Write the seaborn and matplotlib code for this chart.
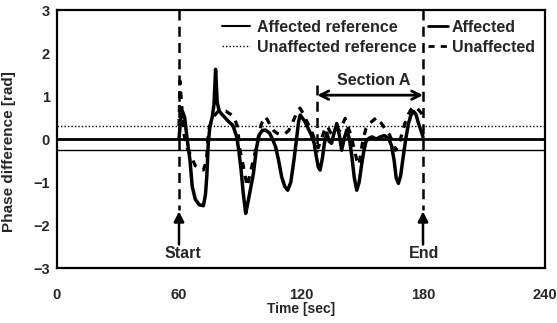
import matplotlib
matplotlib.use("Agg")
import matplotlib.pyplot as plt
import seaborn as sns
from matplotlib.lines import Line2D

# ---------------- data ----------------
t_aff = [60, 60.8, 61.8, 62.8, 64, 65.4, 66.5, 68, 70, 72, 73, 73.7, 74.4, 75.2, 76.3, 77.2,
         78.0, 78.8, 79.8, 81, 82.6, 84.5, 86.5, 88.4, 89.5, 90.5, 91.6, 92.8, 93.8, 95, 96.6,
         98.2, 99.5, 101, 102.5, 104.5, 106, 107.5, 109, 110.5, 112, 113.5, 115, 116.5, 117.8,
         118.8, 119.6, 120.5, 122, 123.5, 125, 126.5, 127.5, 128.5, 129.4, 130.5, 131.5, 132.7,
         133.8, 135, 136.3, 137.6, 138.8, 140, 141.2, 142.5, 143.8, 145, 146.2, 147.4, 148.6,
         149.8, 150.8, 152, 153.5, 155, 157, 159, 161, 163, 164.5, 165.8, 166.8, 167.9, 169,
         170.3, 171.5, 172.8, 174, 175.3, 176.5, 177.8, 179, 180]
v_aff = [0.0, 0.45, 0.63, 0.5, 0.0, -0.49, -1.1, -1.4, -1.53, -1.55, -1.3, -0.85, -0.1, 0.3, 0.5, 0.8,
         1.62, 0.85, 0.65, 0.58, 0.5, 0.4, 0.32, 0.05, -0.3, -0.7, -1.26, -1.73, -1.5, -1.2, -0.8,
         -0.18, 0.1, 0.2, 0.21, 0.14, 0.0, -0.18, -0.5, -0.88, -1.1, -1.19, -1.0, -0.5, 0.0,
         0.4, 0.56, 0.5, 0.4, 0.25, 0.1, -0.1, -0.4, -0.65, -0.72, -0.45, -0.1, 0.14,
         -0.05, -0.1, 0.15, 0.36, 0.1, -0.26, 0.0, 0.21, 0.0, -0.4, -0.9, -1.19, -1.0,
         -0.6, -0.3, -0.05, 0.02, 0.05, 0.0, 0.05, 0.08, 0.02, -0.15, -0.5, -0.9, -1.03, -0.85,
         -0.4, 0.0, 0.35, 0.55, 0.64, 0.58, 0.36, 0.2, 0.05]

t_unaff = [60, 60.5, 61.3, 62.5, 64, 66, 68, 70, 72, 73.5, 74.5, 76, 77.5, 79, 81, 83, 84.5, 86,
           87.5, 88.7, 90, 91.5, 92.5, 93.5, 94.5, 96, 97.5, 99, 100.5, 102.3, 103.5, 105, 106.5,
           108, 110, 112, 114, 116, 117.8, 119.5, 121, 122.5, 124, 125.5, 127, 128.5, 130, 131.5,
           133, 134.5, 136, 137.5, 139, 140.5, 141.7, 143, 144.5, 146, 147.5, 148.5, 149.5, 150.5,
           152, 153.5, 155.6, 157.5, 159, 160.5, 162, 163.5, 165, 166.5, 168, 169.5, 171, 172.5,
           174, 175.3, 176.8, 178, 179.2, 180]
v_unaff = [0.3, 1.35, 0.8, 0.1, -0.2, -0.4, -0.62, -0.68, -0.72, -0.5, 0.2, 0.4, 0.55, 0.63, 0.67,
           0.65, 0.6, 0.56, 0.45, 0.3, -0.26, -0.6, -0.85, -1.1, -0.9, -0.6, -0.3, 0.05, 0.35, 0.52,
           0.45, 0.3, 0.2, 0.14, 0.1, 0.12, 0.2, 0.4, 0.6, 0.72, 0.6, 0.45, 0.3, 0.15, -0.05, -0.2,
           0.0, 0.2, 0.3, 0.15, 0.1, 0.25, 0.2, 0.35, 0.48, 0.3, 0.1, -0.2, -0.5, -0.6, -0.3, 0.0,
           0.25, 0.35, 0.44, 0.5, 0.4, 0.3, 0.21, 0.1, -0.05, -0.26, -0.15, 0.1, 0.35, 0.55,
           0.68, 0.75, 0.72, 0.67, 0.6, 0.5]

aff_ref = -0.25
unaff_ref = 0.30
start_t, end_t, section_start = 60, 180, 128
x_ticks = [0, 60, 120, 180, 240]
y_ticks = [-3, -2, -1, 0, 1, 2, 3]

# ---------------- style ----------------
sns.set_theme(style="white")
plt.rcParams['font.family'] = ['Liberation Sans', 'DejaVu Sans']
plt.rcParams['font.weight'] = 'bold'

fig = plt.figure(figsize=(5.57, 3.23), dpi=100)
ax = fig.add_axes([0.1023, 0.170, 0.8762, 0.799])

FS = 11.5
TFS = 10.5
dotted = (0, (1, 1.5))
# reference and zero lines
ax.axhline(0, color='black', lw=2.0, zorder=2)
ax.axhline(aff_ref, color='black', lw=1.0, zorder=2)
ax.axhline(unaff_ref, color='black', lw=1.0, ls=dotted, zorder=2)

sns.lineplot(x=t_aff, y=v_aff, ax=ax, color='black', lw=2.5, sort=False, zorder=4)
sns.lineplot(x=t_unaff, y=v_unaff, ax=ax, color='black', lw=2.3, ls=(0, (2.2, 2.2)),
             sort=False, zorder=3)

# start / end / section lines
dash_v = (0, (4, 2.5))
ax.plot([start_t, start_t], [3, -1.65], color='black', lw=1.8, ls=dash_v, zorder=3)
ax.plot([end_t, end_t], [3, -1.65], color='black', lw=1.8, ls=dash_v, zorder=3)
ax.plot([section_start, section_start], [1.25, -0.3], color='black', lw=1.8, ls=dash_v, zorder=3)

arrow = dict(arrowstyle='-|>', lw=1.8, color='black', mutation_scale=15, shrinkA=0, shrinkB=0)
ax.annotate('', xy=(start_t, -1.68), xytext=(start_t, -2.45), arrowprops=arrow)
ax.annotate('', xy=(end_t, -1.68), xytext=(end_t, -2.45), arrowprops=arrow)
ax.text(start_t + 2, -2.66, 'Start', ha='center', va='center', fontsize=FS, fontweight='bold')
ax.text(end_t + 0.5, -2.66, 'End', ha='center', va='center', fontsize=FS, fontweight='bold')

ax.annotate('', xy=(section_start, 1.02), xytext=(end_t, 1.02),
            arrowprops=dict(arrowstyle='<->', lw=2.0, color='black', mutation_scale=15,
                            shrinkA=0, shrinkB=0))
ax.text(155.5, 1.37, 'Section A', ha='center', va='center', fontsize=FS, fontweight='bold')

# legends (two columns with different handle lengths)
h_ref = [Line2D([], [], color='black', lw=1.5),
         Line2D([], [], color='black', lw=1.0, ls=dotted)]
leg1 = ax.legend(h_ref, ['Affected reference', 'Unaffected reference'], frameon=False,
                 loc='upper left', bbox_to_anchor=(0.338, 0.962), fontsize=FS,
                 handlelength=1.75, handletextpad=0.45, labelspacing=0.3,
                 borderpad=0, borderaxespad=0)
ax.add_artist(leg1)
h_dat = [Line2D([], [], color='black', lw=2.0),
         Line2D([], [], color='black', lw=2.0, ls=(0, (2.2, 2.2)))]
leg2 = ax.legend(h_dat, ['Affected', 'Unaffected'], frameon=False,
                 loc='upper left', bbox_to_anchor=(0.760, 0.962), fontsize=FS,
                 handlelength=1.25, handletextpad=0.25, labelspacing=0.3,
                 borderpad=0, borderaxespad=0)
for lg in (leg1, leg2):
    for txt in lg.get_texts():
        txt.set_fontweight('bold')

ax.set_xlim(0, 240)
ax.set_ylim(-3, 3)
ax.set_xticks(x_ticks)
ax.set_yticks(y_ticks)
ax.set_yticklabels([str(v).replace('-', '\u2212') for v in y_ticks])
ax.tick_params(axis='both', labelsize=TFS, direction='in', length=3, width=1, color='black')
ax.tick_params(axis='x', length=0, pad=14)
ax.tick_params(axis='y', pad=5)
for lab in ax.get_xticklabels() + ax.get_yticklabels():
    lab.set_fontweight('bold')

ax.set_xlabel('Time [sec]', fontsize=10, fontweight='bold', labelpad=0)
ax.set_ylabel('Phase difference [rad]', fontsize=11, fontweight='bold', labelpad=4)
ax.yaxis.set_label_coords(-0.083, 0.45)
for sp in ax.spines.values():
    sp.set_color('black')
    sp.set_linewidth(1.6)
ax.grid(False)

fig.savefig('out.png', dpi=100)
